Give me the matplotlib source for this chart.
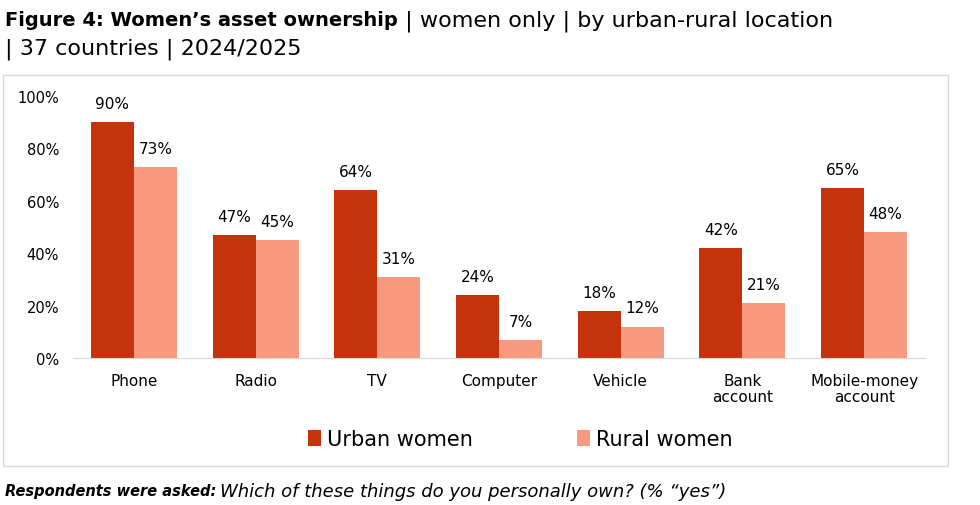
import numpy as np
import matplotlib.pyplot as plt
from matplotlib.patches import Rectangle

# data
categories = ['Phone', 'Radio', 'TV', 'Computer', 'Vehicle', 'Bank\naccount', 'Mobile-money\naccount']
urban = [90, 47, 64, 24, 18, 42, 65]
rural = [73, 45, 31, 7, 12, 21, 48]
yticks = [0, 20, 40, 60, 80, 100]

urban_color = '#C4330B'
rural_color = '#F79A80'

plt.rcParams['font.family'] = ['DejaVu Sans']

fig = plt.figure(figsize=(9.8, 5.06), dpi=100)

# frame around the chart area
fig.patches.append(Rectangle((3 / 980, 1 - 467 / 506), 945 / 980, 391 / 506,
                             transform=fig.transFigure, fill=False,
                             edgecolor='#D9D9D9', linewidth=1))

ax = fig.add_axes([73 / 980, 1 - 359 / 506, 852 / 980, 262 / 506])

x = np.arange(len(categories))
w = 0.353
b1 = ax.bar(x - w / 2, urban, w, color=urban_color, label='Urban women')
b2 = ax.bar(x + w / 2, rural, w, color=rural_color, label='Rural women')

for bars, vals in [(b1, urban), (b2, rural)]:
    for r, v in zip(bars, vals):
        ax.annotate(f'{v}%', (r.get_x() + r.get_width() / 2, v), xytext=(0, 8),
                    textcoords='offset points', ha='center', va='bottom', fontsize=11)

ax.set_xlim(-0.5, len(categories) - 0.5)
ax.set_ylim(0, 100)
ax.set_yticks(yticks)
ax.set_yticklabels([f'{t}%' for t in yticks], fontsize=10.5)
ax.set_xticks(x)
ax.set_xticklabels(categories, fontsize=11, linespacing=1.1)
ax.tick_params(axis='x', length=0, pad=11)
ax.tick_params(axis='y', length=0, pad=10)
for s in ['top', 'right', 'left']:
    ax.spines[s].set_visible(False)
ax.spines['bottom'].set_color('#D9D9D9')

ax.legend(loc='center', bbox_to_anchor=(0.525, -0.31), ncol=2, frameon=False,
          fontsize=15, handlelength=0.6, handleheight=0.8, handletextpad=0.3,
          columnspacing=5)

# title in two parts: bold lead then regular
fig.canvas.draw()
r = fig.canvas.get_renderer()
lead = fig.text(5 / 980, 1 - 21 / 506, 'Figure 4: Women\u2019s asset ownership', fontsize=14,
                fontweight='bold', va='center', ha='left')
bb = lead.get_window_extent(renderer=r)
fig.text(bb.x1 / 980, 1 - 21 / 506, ' | women only | by urban-rural location',
         fontsize=16, va='center', ha='left')
fig.text(5 / 980, 1 - 49 / 506, '| 37 countries | 2024/2025', fontsize=16,
         va='center', ha='left')

note = fig.text(5 / 980, 1 - 492 / 506, 'Respondents were asked:', fontsize=10.5,
                fontweight='bold', style='italic', va='center', ha='left')
bb2 = note.get_window_extent(renderer=r)
fig.text(bb2.x1 / 980 + 0.004, 1 - 492 / 506,
         'Which of these things do you personally own? (% \u201cyes\u201d)',
         fontsize=13, style='italic', va='center', ha='left')

fig.savefig('out.png', dpi=100)
